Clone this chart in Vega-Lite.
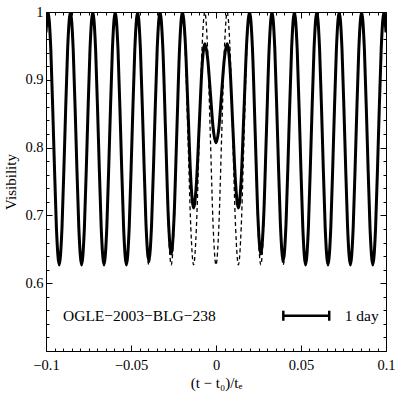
{
  "$schema": "https://vega.github.io/schema/vega-lite/v6.json",
  "width": 340,
  "height": 339,
  "autosize": {"type": "none"},
  "padding": {"left": 46, "top": 12, "right": 13, "bottom": 47},
  "background": "white",
  "config": {
    "view": {"stroke": "black", "strokeWidth": 1},
    "font": "Liberation Serif",
    "axis": {
      "domain": false, "grid": false,
      "labelFont": "Liberation Serif", "titleFont": "Liberation Serif",
      "labelColor": "black", "titleColor": "black", "tickColor": "black",
      "labelFontSize": 14.5, "titleFontSize": 15, "titleFontWeight": "normal",
      "tickWidth": 1
    }
  },
  "datasets": {
    "curve": [
      {"x": -0.1, "d": 0.970, "s": 0.970},
      {"x": -0.09882, "d": 1.0, "s": 1.0},
      {"x": -0.09717, "d": 0.945, "s": 0.945},
      {"x": -0.09553, "d": 0.814, "s": 0.814},
      {"x": -0.09388, "d": 0.682, "s": 0.682},
      {"x": -0.09223, "d": 0.627, "s": 0.627},
      {"x": -0.09059, "d": 0.682, "s": 0.682},
      {"x": -0.08894, "d": 0.814, "s": 0.814},
      {"x": -0.08729, "d": 0.945, "s": 0.945},
      {"x": -0.08564, "d": 1.0, "s": 1.0},
      {"x": -0.08400, "d": 0.945, "s": 0.945},
      {"x": -0.08235, "d": 0.814, "s": 0.814},
      {"x": -0.08070, "d": 0.682, "s": 0.682},
      {"x": -0.07906, "d": 0.627, "s": 0.627},
      {"x": -0.07741, "d": 0.682, "s": 0.682},
      {"x": -0.07576, "d": 0.814, "s": 0.814},
      {"x": -0.07412, "d": 0.945, "s": 0.945},
      {"x": -0.07247, "d": 1.0, "s": 1.0},
      {"x": -0.07082, "d": 0.945, "s": 0.945},
      {"x": -0.06917, "d": 0.814, "s": 0.814},
      {"x": -0.06753, "d": 0.682, "s": 0.682},
      {"x": -0.06588, "d": 0.627, "s": 0.627},
      {"x": -0.06423, "d": 0.682, "s": 0.682},
      {"x": -0.06259, "d": 0.814, "s": 0.814},
      {"x": -0.06094, "d": 0.945, "s": 0.945},
      {"x": -0.05929, "d": 1.0, "s": 1.0},
      {"x": -0.05765, "d": 0.945, "s": 0.945},
      {"x": -0.05600, "d": 0.814, "s": 0.814},
      {"x": -0.05435, "d": 0.682, "s": 0.682},
      {"x": -0.05270, "d": 0.627, "s": 0.627},
      {"x": -0.05106, "d": 0.682, "s": 0.682},
      {"x": -0.04941, "d": 0.814, "s": 0.814},
      {"x": -0.04776, "d": 0.945, "s": 0.945},
      {"x": -0.04612, "d": 1.0, "s": 1.0},
      {"x": -0.04447, "d": 0.945, "s": 0.946},
      {"x": -0.04282, "d": 0.814, "s": 0.817},
      {"x": -0.04118, "d": 0.682, "s": 0.687},
      {"x": -0.03953, "d": 0.627, "s": 0.633},
      {"x": -0.03788, "d": 0.682, "s": 0.687},
      {"x": -0.03623, "d": 0.814, "s": 0.817},
      {"x": -0.03459, "d": 0.945, "s": 0.946},
      {"x": -0.03294, "d": 1.0, "s": 1.0},
      {"x": -0.03129, "d": 0.945, "s": 0.948},
      {"x": -0.02965, "d": 0.814, "s": 0.822},
      {"x": -0.02800, "d": 0.682, "s": 0.695},
      {"x": -0.02635, "d": 0.627, "s": 0.643},
      {"x": -0.02471, "d": 0.682, "s": 0.695},
      {"x": -0.02306, "d": 0.814, "s": 0.822},
      {"x": -0.02141, "d": 0.945, "s": 0.948},
      {"x": -0.01976, "d": 1.0, "s": 1.0},
      {"x": -0.01812, "d": 0.945, "s": 0.958},
      {"x": -0.01647, "d": 0.814, "s": 0.856},
      {"x": -0.01482, "d": 0.682, "s": 0.753},
      {"x": -0.01318, "d": 0.627, "s": 0.711},
      {"x": -0.01153, "d": 0.682, "s": 0.747},
      {"x": -0.00988, "d": 0.814, "s": 0.832},
      {"x": -0.00824, "d": 0.945, "s": 0.918},
      {"x": -0.00659, "d": 1.0, "s": 0.953},
      {"x": -0.00494, "d": 0.945, "s": 0.932},
      {"x": -0.00329, "d": 0.814, "s": 0.880},
      {"x": -0.00165, "d": 0.682, "s": 0.828},
      {"x": 0, "d": 0.627, "s": 0.807},
      {"x": 0.00165, "d": 0.682, "s": 0.828},
      {"x": 0.00329, "d": 0.814, "s": 0.880},
      {"x": 0.00494, "d": 0.945, "s": 0.932},
      {"x": 0.00659, "d": 1.0, "s": 0.953},
      {"x": 0.00824, "d": 0.945, "s": 0.918},
      {"x": 0.00988, "d": 0.814, "s": 0.832},
      {"x": 0.01153, "d": 0.682, "s": 0.747},
      {"x": 0.01318, "d": 0.627, "s": 0.711},
      {"x": 0.01482, "d": 0.682, "s": 0.753},
      {"x": 0.01647, "d": 0.814, "s": 0.856},
      {"x": 0.01812, "d": 0.945, "s": 0.958},
      {"x": 0.01976, "d": 1.0, "s": 1.0},
      {"x": 0.02141, "d": 0.945, "s": 0.948},
      {"x": 0.02306, "d": 0.814, "s": 0.822},
      {"x": 0.02471, "d": 0.682, "s": 0.695},
      {"x": 0.02635, "d": 0.627, "s": 0.643},
      {"x": 0.02800, "d": 0.682, "s": 0.695},
      {"x": 0.02965, "d": 0.814, "s": 0.822},
      {"x": 0.03129, "d": 0.945, "s": 0.948},
      {"x": 0.03294, "d": 1.0, "s": 1.0},
      {"x": 0.03459, "d": 0.945, "s": 0.946},
      {"x": 0.03623, "d": 0.814, "s": 0.817},
      {"x": 0.03788, "d": 0.682, "s": 0.687},
      {"x": 0.03953, "d": 0.627, "s": 0.633},
      {"x": 0.04118, "d": 0.682, "s": 0.687},
      {"x": 0.04282, "d": 0.814, "s": 0.817},
      {"x": 0.04447, "d": 0.945, "s": 0.946},
      {"x": 0.04612, "d": 1.0, "s": 1.0},
      {"x": 0.04776, "d": 0.945, "s": 0.945},
      {"x": 0.04941, "d": 0.814, "s": 0.814},
      {"x": 0.05106, "d": 0.682, "s": 0.682},
      {"x": 0.05270, "d": 0.627, "s": 0.627},
      {"x": 0.05435, "d": 0.682, "s": 0.682},
      {"x": 0.05600, "d": 0.814, "s": 0.814},
      {"x": 0.05765, "d": 0.945, "s": 0.945},
      {"x": 0.05929, "d": 1.0, "s": 1.0},
      {"x": 0.06094, "d": 0.945, "s": 0.945},
      {"x": 0.06259, "d": 0.814, "s": 0.814},
      {"x": 0.06423, "d": 0.682, "s": 0.682},
      {"x": 0.06588, "d": 0.627, "s": 0.627},
      {"x": 0.06753, "d": 0.682, "s": 0.682},
      {"x": 0.06917, "d": 0.814, "s": 0.814},
      {"x": 0.07082, "d": 0.945, "s": 0.945},
      {"x": 0.07247, "d": 1.0, "s": 1.0},
      {"x": 0.07412, "d": 0.945, "s": 0.945},
      {"x": 0.07576, "d": 0.814, "s": 0.814},
      {"x": 0.07741, "d": 0.682, "s": 0.682},
      {"x": 0.07906, "d": 0.627, "s": 0.627},
      {"x": 0.08070, "d": 0.682, "s": 0.682},
      {"x": 0.08235, "d": 0.814, "s": 0.814},
      {"x": 0.08400, "d": 0.945, "s": 0.945},
      {"x": 0.08564, "d": 1.0, "s": 1.0},
      {"x": 0.08729, "d": 0.945, "s": 0.945},
      {"x": 0.08894, "d": 0.814, "s": 0.814},
      {"x": 0.09059, "d": 0.682, "s": 0.682},
      {"x": 0.09223, "d": 0.627, "s": 0.627},
      {"x": 0.09388, "d": 0.682, "s": 0.682},
      {"x": 0.09553, "d": 0.814, "s": 0.814},
      {"x": 0.09717, "d": 0.945, "s": 0.945},
      {"x": 0.09882, "d": 1.0, "s": 1.0},
      {"x": 0.1, "d": 0.970, "s": 0.970}
    ],
    "bar": [{"x": 0.0396, "x2": 0.0666, "y": 0.552}],
    "caps": [
      {"x": 0.0396, "ylo": 0.5446, "yhi": 0.5594},
      {"x": 0.0666, "ylo": 0.5446, "yhi": 0.5594}
    ],
    "labels": [
      {"x": -0.09, "y": 0.551, "t": "OGLE−2003−BLG−238"},
      {"x": 0.0757, "y": 0.551, "t": "1 day"}
    ]
  },
  "resolve": {"axis": {"x": "independent", "y": "independent"}},
  "layer": [
    {
      "data": {"name": "curve"},
      "mark": {"type": "line", "stroke": "black", "strokeWidth": 1.3, "strokeDash": [4, 3], "interpolate": "monotone", "clip": true},
      "encoding": {
        "x": {"field": "x", "type": "quantitative",
          "scale": {"domain": [-0.1, 0.1], "nice": false, "zero": false},
          "axis": {"orient": "bottom", "values": [-0.1, -0.05, 0, 0.05, 0.1], "format": "~g",
            "tickSize": -6, "labelPadding": 13, "labelFlush": false,
            "title": "(t − t₀)/tₑ", "titlePadding": 4}},
        "y": {"field": "d", "type": "quantitative",
          "scale": {"domain": [0.5, 1], "nice": false, "zero": false},
          "axis": {"orient": "left", "values": [0.5, 0.6, 0.7, 0.8, 0.9, 1], "format": "~g",
            "labelExpr": "datum.value < 0.55 ? '' : datum.label",
            "tickSize": -6, "labelPadding": 9, "title": "Visibility", "titlePadding": 6}}
      }
    },
    {
      "data": {"name": "curve"},
      "mark": {"type": "line", "stroke": "black", "strokeWidth": 3, "interpolate": "monotone", "clip": true},
      "encoding": {
        "x": {"field": "x", "type": "quantitative",
          "scale": {"domain": [-0.1, 0.1], "nice": false, "zero": false},
          "axis": {"orient": "top", "values": [-0.1, -0.05, 0, 0.05, 0.1], "tickSize": -6, "labels": false, "title": null}},
        "y": {"field": "s", "type": "quantitative",
          "scale": {"domain": [0.5, 1], "nice": false, "zero": false},
          "axis": {"orient": "right", "values": [0.5, 0.6, 0.7, 0.8, 0.9, 1], "tickSize": -6, "labels": false, "title": null}}
      }
    },
    {
      "data": {"name": "bar"},
      "mark": {"type": "rule", "stroke": "black", "strokeWidth": 2.5},
      "encoding": {
        "x": {"field": "x", "type": "quantitative",
          "scale": {"domain": [-0.1, 0.1], "nice": false, "zero": false},
          "axis": {"orient": "bottom", "values": [-0.095, -0.09, -0.085, -0.08, -0.075, -0.07, -0.065, -0.06, -0.055, -0.045, -0.04, -0.035, -0.03, -0.025, -0.02, -0.015, -0.01, -0.005, 0.005, 0.01, 0.015, 0.02, 0.025, 0.03, 0.035, 0.04, 0.045, 0.055, 0.06, 0.065, 0.07, 0.075, 0.08, 0.085, 0.09, 0.095], "tickSize": -3, "labels": false, "title": null}},
        "x2": {"field": "x2"},
        "y": {"field": "y", "type": "quantitative",
          "scale": {"domain": [0.5, 1], "nice": false, "zero": false},
          "axis": {"orient": "left", "values": [0.52, 0.54, 0.56, 0.58, 0.62, 0.64, 0.66, 0.68, 0.72, 0.74, 0.76, 0.78, 0.82, 0.84, 0.86, 0.88, 0.92, 0.94, 0.96, 0.98], "tickSize": -3, "labels": false, "title": null}}
      }
    },
    {
      "data": {"name": "caps"},
      "mark": {"type": "rule", "stroke": "black", "strokeWidth": 2.5},
      "encoding": {
        "x": {"field": "x", "type": "quantitative",
          "scale": {"domain": [-0.1, 0.1], "nice": false, "zero": false},
          "axis": {"orient": "top", "values": [-0.095, -0.09, -0.085, -0.08, -0.075, -0.07, -0.065, -0.06, -0.055, -0.045, -0.04, -0.035, -0.03, -0.025, -0.02, -0.015, -0.01, -0.005, 0.005, 0.01, 0.015, 0.02, 0.025, 0.03, 0.035, 0.04, 0.045, 0.055, 0.06, 0.065, 0.07, 0.075, 0.08, 0.085, 0.09, 0.095], "tickSize": -3, "labels": false, "title": null}},
        "y": {"field": "ylo", "type": "quantitative",
          "scale": {"domain": [0.5, 1], "nice": false, "zero": false},
          "axis": {"orient": "right", "values": [0.52, 0.54, 0.56, 0.58, 0.62, 0.64, 0.66, 0.68, 0.72, 0.74, 0.76, 0.78, 0.82, 0.84, 0.86, 0.88, 0.92, 0.94, 0.96, 0.98], "tickSize": -3, "labels": false, "title": null}},
        "y2": {"field": "yhi"}
      }
    },
    {
      "data": {"name": "labels"},
      "mark": {"type": "text", "align": "left", "baseline": "middle", "font": "Liberation Serif", "fontSize": 15.5, "color": "black"},
      "encoding": {
        "x": {"field": "x", "type": "quantitative", "scale": {"domain": [-0.1, 0.1], "nice": false, "zero": false}, "axis": null},
        "y": {"field": "y", "type": "quantitative", "scale": {"domain": [0.5, 1], "nice": false, "zero": false}, "axis": null},
        "text": {"field": "t"}
      }
    }
  ]
}
